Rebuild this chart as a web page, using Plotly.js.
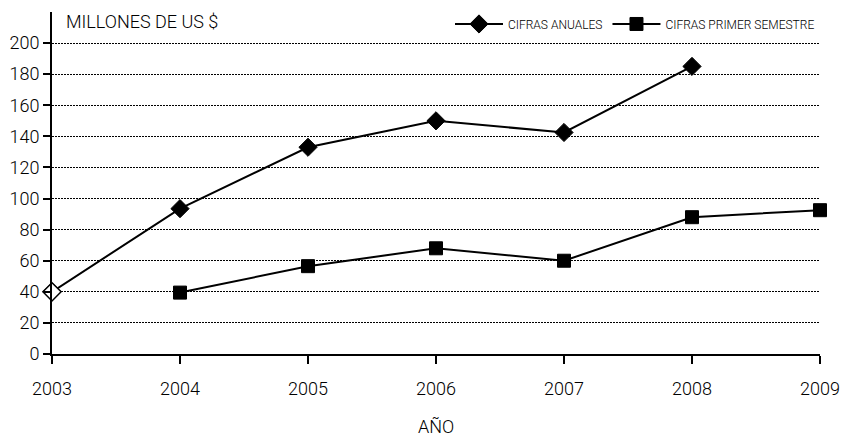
<!DOCTYPE html>
<html><head><meta charset="utf-8">
<script src="https://cdn.plot.ly/plotly-3.0.1.min.js"></script>
<style>html,body{margin:0;padding:0;background:#fff}#c{width:843px;height:437px}</style>
</head><body><div id="c"></div>
<script>
var years = [2003, 2004, 2005, 2006, 2007, 2008, 2009];
var annualYears = [2003, 2004, 2005, 2006, 2007, 2008];
var annualValues = [40, 93.5, 133, 150, 142.5, 185];
var semesterYears = [2004, 2005, 2006, 2007, 2008, 2009];
var semesterValues = [39.5, 56.5, 68, 60, 88, 92.5];
var yTicks = [0, 20, 40, 60, 80, 100, 120, 140, 160, 180, 200];
var seriesNames = ['CIFRAS ANUALES', 'CIFRAS PRIMER SEMESTRE'];

var FONT = 'Roboto, "Liberation Sans", sans-serif';

var traces = [
  {x: annualYears, y: annualValues, name: seriesNames[0], mode: 'lines+markers', type: 'scatter',
   line: {color: '#000', width: 2},
   marker: {symbol: 'diamond', size: 14, color: '#000', line: {color: '#000', width: 1}},
   cliponaxis: false},
  {x: semesterYears, y: semesterValues, name: seriesNames[1], mode: 'lines+markers', type: 'scatter',
   line: {color: '#000', width: 2},
   marker: {symbol: 'square', size: 13, color: '#000', line: {color: '#000', width: 1}},
   cliponaxis: false},
  {x: [annualYears[0]], y: [annualValues[0]], name: seriesNames[0], mode: 'markers', type: 'scatter',
   showlegend: false,
   marker: {symbol: 'diamond', size: 14, color: '#fff', line: {color: '#000', width: 1.5}},
   cliponaxis: false}
];

var layout = {
  width: 843, height: 437,
  margin: {l: 52, r: 23, t: 12, b: 83, autoexpand: false},
  paper_bgcolor: '#fff', plot_bgcolor: '#fff',
  font: {family: FONT, color: '#000', size: 18, weight: 300},
  showlegend: true,
  legend: {orientation: 'h', x: 1.0, xanchor: 'right', y: 0.965, yanchor: 'middle',
           font: {size: 12, family: FONT, weight: 300, color: '#000'}, bgcolor: 'rgba(0,0,0,0)', itemwidth: 48,
           tracegroupgap: 0},
  xaxis: {range: [2003, 2009], tickvals: years, ticktext: years.map(String),
          showgrid: false, zeroline: false, showline: true, linecolor: '#000', linewidth: 2,
          ticks: 'outside', ticklen: 8, tickwidth: 2, tickcolor: '#000', ticklabelstandoff: 9,
          tickfont: {size: 18, family: FONT, weight: 300, color: '#000'},
          title: {text: 'AÑO', font: {size: 18, family: FONT, weight: 300, color: '#000'}, standoff: 29}},
  yaxis: {range: [0, 220], tickvals: yTicks, showgrid: true, gridcolor: '#000', griddash: '2px,1px', gridwidth: 1,
          zeroline: false, showline: true, linecolor: '#000', linewidth: 2,
          ticks: 'outside', ticklen: 7, tickwidth: 2, tickcolor: '#000',
          tickfont: {size: 18, family: FONT, weight: 300, color: '#000'}},
  annotations: [{text: 'MILLONES DE US $', xref: 'paper', yref: 'paper', x: 0.016, y: 0.971,
                 xanchor: 'left', yanchor: 'middle', showarrow: false,
                 font: {size: 18, family: FONT, weight: 300, color: '#000'}}]
};

Plotly.newPlot('c', traces, layout, {displayModeBar: false, staticPlot: true});
</script></body></html>
